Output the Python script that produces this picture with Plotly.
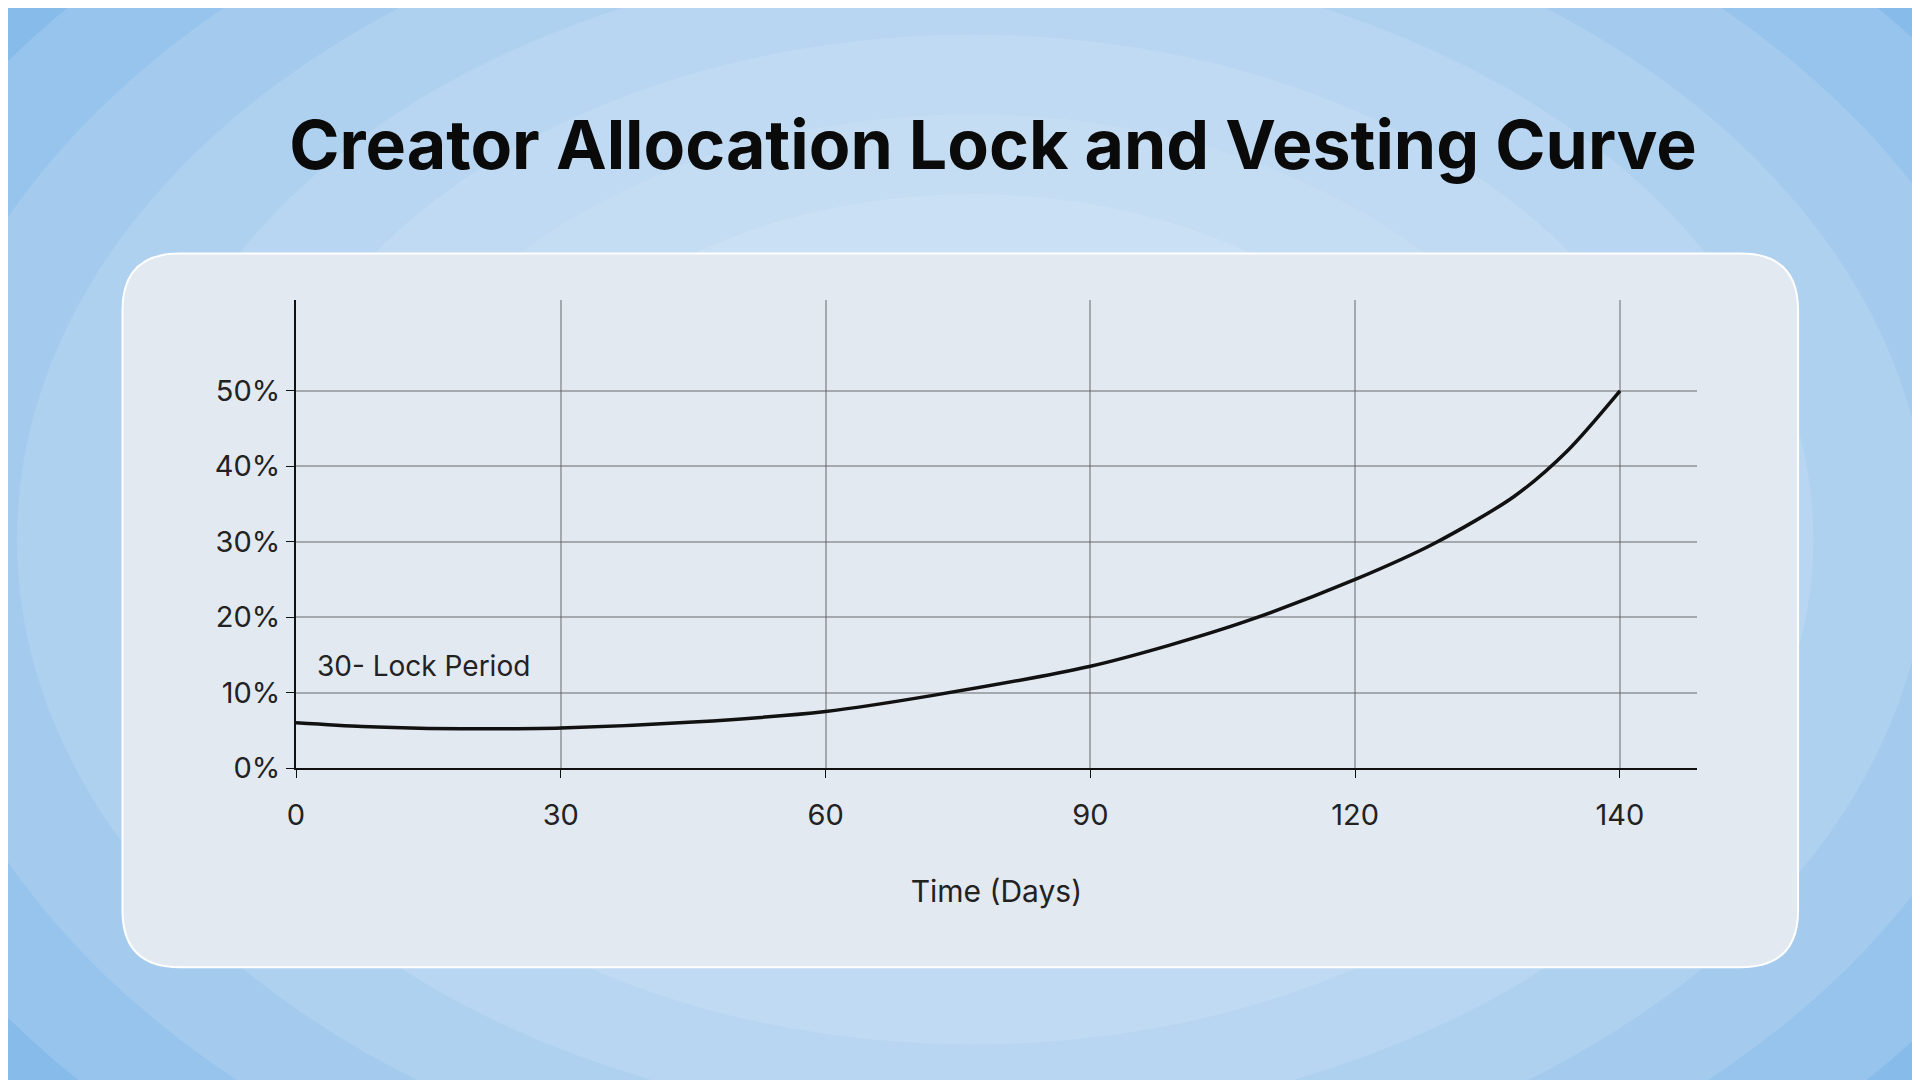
import plotly.graph_objects as go

tick_labels = ["0", "30", "60", "90", "120", "140"]
tick_pos = [0, 1, 2, 3, 4, 5]
curve_x = [0, 0.25, 0.5, 0.75, 1, 1.5, 2, 2.4, 3, 3.3, 3.6, 4, 4.3, 4.6, 4.8, 5]
curve_y = [6.0, 5.5, 5.25, 5.2, 5.3, 6.1, 7.5, 9.6, 13.5, 16.3, 19.6, 25.0, 29.8, 36.0, 42.0, 50.0]
y_ticks = [0, 10, 20, 30, 40, 50]
y_labels = ["0%", "10%", "20%", "30%", "40%", "50%"]

fig = go.Figure()
fig.add_trace(go.Scatter(x=curve_x, y=curve_y, mode="lines",
                         line=dict(color="#111", width=3.5, shape="spline", smoothing=0.8), showlegend=False))

font = "Inter, Roboto, sans-serif"
fig.update_layout(
    width=1920, height=1080, margin=dict(l=0, r=0, t=0, b=0),
    paper_bgcolor="#86bbea", plot_bgcolor="rgba(0,0,0,0)",
    font=dict(family=font, color="#222", size=29),
    xaxis=dict(domain=[0.146, 0.879], range=[0, 5.29], tickvals=tick_pos, ticktext=tick_labels,
               showgrid=True, gridcolor="rgba(90,90,90,0.45)", gridwidth=1.5, zeroline=False,
               showline=True, linecolor="#111", linewidth=2, ticks="outside", ticklen=8, tickcolor="#111",
               ticklabelstandoff=12,
               title=dict(text="Time (Days)", standoff=50, font=dict(size=30))),
    yaxis=dict(domain=[0.285, 0.725], range=[0, 62], tickvals=y_ticks, ticktext=y_labels,
               showgrid=True, gridcolor="rgba(90,90,90,0.45)", gridwidth=1.5, zeroline=False,
               showline=True, linecolor="#111", linewidth=2, ticks="outside", ticklen=8, tickcolor="#111"),
    title=dict(text="<b>Creator Allocation Lock and Vesting Curve</b>", x=0.513, xanchor="center", y=0.873, yanchor="middle",
               font=dict(size=68, color="#0a0a0a", family=font)),
)
# soft radial glow
for k in range(8):
    s = 0.62 - k * 0.06
    fig.add_shape(type="circle", xref="paper", yref="paper", x0=0.5 - s, x1=0.5 + s, y0=0.5 - s * 1.25, y1=0.5 + s * 1.25,
                  fillcolor="rgba(225,238,252,0.18)", line_width=0, layer="below")
x0, x1, y0, y1, r = 0.0552, 0.932, 0.0977, 0.769, 0.03
rx, ry = r, r * 1920 / 1080
path = (f"M {x0+rx},{y0} L {x1-rx},{y0} Q {x1},{y0} {x1},{y0+ry} L {x1},{y1-ry} Q {x1},{y1} {x1-rx},{y1} "
        f"L {x0+rx},{y1} Q {x0},{y1} {x0},{y1-ry} L {x0},{y0+ry} Q {x0},{y0} {x0+rx},{y0} Z")
fig.add_shape(type="path", xref="paper", yref="paper", path=path, fillcolor="#e2e9f1",
              line=dict(color="white", width=2), layer="below")
fig.add_annotation(x=0.07, y=13.5, xref="x", yref="y", text="30- Lock Period", showarrow=False,
                   xanchor="left", yanchor="middle", font=dict(size=28, color="#222"))
fig.write_html("out.html")
